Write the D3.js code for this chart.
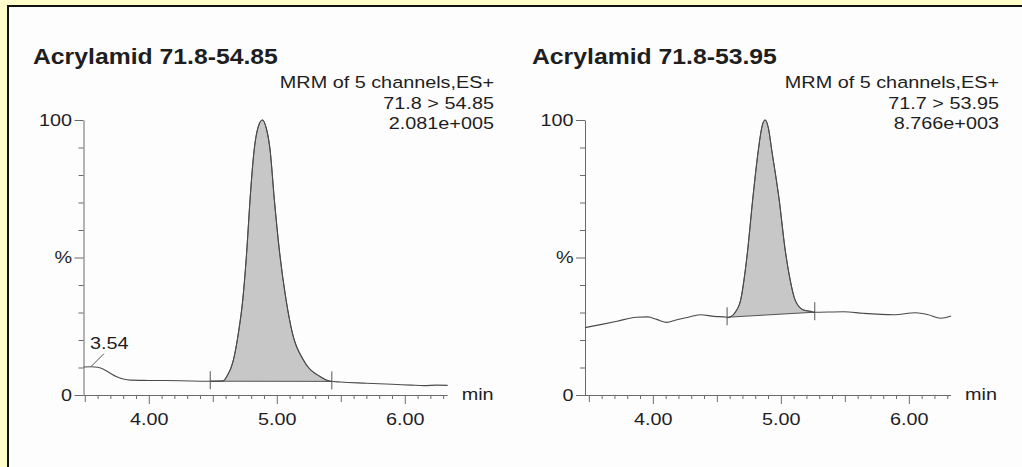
<!DOCTYPE html>
<html>
<head>
<meta charset="utf-8">
<script src="https://cdn.jsdelivr.net/npm/d3@7"></script>
<style>
  html, body { margin: 0; padding: 0; background: #ffffcc; }
  svg { display: block; }
  text { font-family: "Liberation Sans", Arial, sans-serif; fill: #1e1e1e; }
</style>
</head>
<body>
<div id="chart"></div>
<script>
// ---- data ----
const titles = ["Acrylamid 71.8-54.85", "Acrylamid 71.8-53.95"];
const infoLines = [
  ["MRM of 5 channels,ES+", "71.8 > 54.85", "2.081e+005"],
  ["MRM of 5 channels,ES+", "71.7 > 53.95", "8.766e+003"]
];
const timeRanges = [[3.49, 6.335], [3.47, 6.33]];
const xTickLabels = [4, 5, 6];
const yTickLabels = [0, 100];

// [time (min), intensity (%)]
const traceA = [
  [3.49, 10.2], [3.55, 10.3], [3.60, 10.1], [3.65, 9.3], [3.70, 7.9], [3.75, 6.6],
  [3.80, 5.8], [3.86, 5.4], [4.00, 5.3], [4.25, 5.2], [4.50, 5.0], [4.58, 5.1],
  [4.609, 6.7], [4.661, 12.7], [4.700, 22.5], [4.734, 34.5], [4.766, 52.7],
  [4.791, 71], [4.823, 89], [4.855, 97.5], [4.8875, 100], [4.918, 97],
  [4.948, 89], [4.981, 71], [5.020, 52.7], [5.073, 34.5], [5.122, 22.5],
  [5.208, 12.7], [5.338, 6.7], [5.416, 5.0], [5.50, 4.7], [5.70, 4.3],
  [5.90, 3.9], [6.05, 3.6], [6.15, 3.4], [6.25, 3.6], [6.335, 3.5]
];
const traceB = [
  [3.47, 24.5], [3.58, 25.5], [3.72, 26.8], [3.87, 28.3], [3.96, 28.4], [4.03, 27.5],
  [4.11, 26.4], [4.18, 27.3], [4.27, 28.2], [4.37, 29.2], [4.48, 28.6], [4.576, 28.3],
  [4.589, 28.2], [4.655, 30.9], [4.686, 34.5], [4.712, 41.8], [4.741, 52.7],
  [4.780, 71], [4.824, 89], [4.850, 97], [4.877, 100], [4.903, 97], [4.929, 89],
  [4.987, 71], [5.034, 52.7], [5.073, 41.8], [5.112, 34.5], [5.177, 30.9],
  [5.243, 30.3], [5.256, 30.1], [5.49, 30.3], [5.645, 29.7], [5.881, 29.2],
  [6.053, 29.9], [6.145, 29.3], [6.249, 27.9], [6.33, 28.7]
];
const integrationA = [4.48, 5.43];
const integrationB = [4.58, 5.265];
const peakLabelsA = [[3.54, "3.54"]];
const peakLabelsB = [];

// ---- layout ----
const width = 1022, height = 467;
const stretch = 1.18;      // the scan is a bit wider than it is tall
const fontSize = 16.8;
const panels = [
  {axisX: 83.5, titleX: 33, infoX: 494, trace: traceA, marks: integrationA, peaks: peakLabelsA},
  {axisX: 585, titleX: 532, infoX: 999, trace: traceB, marks: integrationB, peaks: peakLabelsB}
];
const pxPerMin = 128;
const yTop = 120, yBottom = 395;

const svg = d3.select("#chart").append("svg")
  .attr("width", width)
  .attr("height", height);

svg.append("rect").attr("width", width).attr("height", height).attr("fill", "#ffffcc");
svg.append("rect")
  .attr("x", 8).attr("y", 6)
  .attr("width", width + 20).attr("height", height + 20)
  .attr("fill", "#fdfdfd")
  .attr("stroke", "#111")
  .attr("stroke-width", 2);

// text placed at (x,y) and stretched horizontally around its anchor
function label(g, x, y, str, size, anchor, k, bold) {
  g.append("text")
    .attr("transform", `translate(${x},${y}) scale(${k},1)`)
    .attr("text-anchor", anchor)
    .style("font-size", size + "px")
    .style("font-weight", bold ? "bold" : null)
    .text(str);
}

function interp(trace, t) {
  for (let i = 1; i < trace.length; i++) {
    if (trace[i][0] >= t) {
      const a = trace[i - 1], b = trace[i];
      return a[1] + (b[1] - a[1]) * (t - a[0]) / (b[0] - a[0]);
    }
  }
  return trace[trace.length - 1][1];
}

panels.forEach((p, i) => {
  const g = svg.append("g");
  const [t0, t1] = timeRanges[i];
  const x = d3.scaleLinear().domain([t0, t1]).range([p.axisX, p.axisX + (t1 - t0) * pxPerMin]);
  const y = d3.scaleLinear().domain([0, 100]).range([yBottom, yTop]);

  // title + acquisition info
  label(g, p.titleX, 64, titles[i], 22.5, "start", 1.1, true);
  infoLines[i].forEach((s, j) => label(g, p.infoX, [88, 109, 129][j], s, fontSize, "end", stretch, false));

  // y axis
  const yAxis = g.append("g")
    .attr("transform", `translate(${p.axisX},0)`)
    .call(d3.axisLeft(y)
      .tickValues(d3.range(0, 101, 10))
      .tickSizeOuter(0)
      .tickFormat(d => yTickLabels.includes(d) ? d : (d === 50 ? "%" : "")));
  yAxis.selectAll(".tick line")
    .attr("x2", d => (yTickLabels.includes(d) || d === 50) ? -9 : -5);
  yAxis.selectAll(".tick text")
    .attr("x", -11.5 / stretch)
    .attr("transform", `scale(${stretch},1)`)
    .style("font-size", fontSize + "px")
    .style("font-family", null)
    .attr("fill", "#1e1e1e");

  // x axis
  const xAxis = g.append("g")
    .attr("transform", `translate(0,${yBottom})`)
    .call(d3.axisBottom(x)
      .tickValues(d3.range(35, 64).map(d => d / 10))
      .tickSizeOuter(0)
      .tickFormat(d => xTickLabels.includes(d) ? d3.format(".2f")(d) : ""));
  xAxis.select(".domain").attr("d", `M${p.axisX},0.5H${x.range()[1]}`);
  xAxis.selectAll(".tick line")
    .attr("y2", d => {
      const k = Math.round(d * 10);
      return k % 10 === 0 ? 9 : (k % 5 === 0 ? 7 : 4);
    });
  xAxis.selectAll(".tick text")
    .attr("y", 30).attr("dy", null)
    .attr("transform", `scale(${stretch},1)`)
    .style("font-size", fontSize + "px")
    .style("font-family", null)
    .attr("fill", "#1e1e1e");
  g.selectAll(".domain, .tick line").attr("stroke", "#6a6a6a");
  label(g, x.range()[1] + 14, yBottom + 5, "min", fontSize, "start", stretch, false);

  // integrated peak area
  const [m0, m1] = p.marks;
  const inside = p.trace.filter(d => d[0] > m0 && d[0] < m1);
  const area = [[m0, interp(p.trace, m0)], ...inside, [m1, interp(p.trace, m1)]];
  const line = d3.line().x(d => x(d[0])).y(d => y(d[1])).curve(d3.curveMonotoneX);
  g.append("path")
    .attr("d", line(area) + `L${x(m0)},${y(area[0][1])}Z`)
    .attr("fill", "#c7c7c7")
    .attr("stroke", "#444")
    .attr("stroke-width", 0.9);

  // trace
  g.append("path")
    .attr("d", line(p.trace))
    .attr("fill", "none")
    .attr("stroke", "#4a4a4a")
    .attr("stroke-width", 1.1);

  // integration markers
  p.marks.forEach(t => {
    const yy = y(interp(p.trace, t));
    g.append("line")
      .attr("x1", x(t)).attr("x2", x(t))
      .attr("y1", yy - 10).attr("y2", yy + 8)
      .attr("stroke", "#555");
  });

  // labelled peaks
  p.peaks.forEach(([t, s]) => {
    const px = x(t), py = y(interp(p.trace, t));
    g.append("line")
      .attr("x1", px + 1).attr("y1", py)
      .attr("x2", px + 14).attr("y2", py - 13)
      .attr("stroke", "#555");
    label(g, px, py - 18, s, fontSize, "start", stretch, false);
  });
});
</script>
</body>
</html>
